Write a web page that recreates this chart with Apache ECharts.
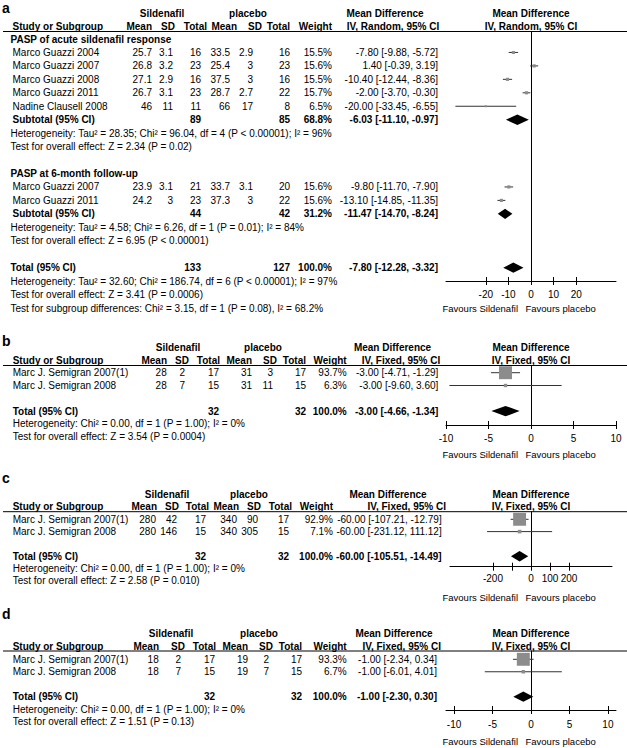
<!DOCTYPE html>
<html><head><meta charset="utf-8">
<script src="https://cdn.jsdelivr.net/npm/echarts@6/dist/echarts.min.js"></script>
<style>html,body{margin:0;padding:0;background:#fff}#c{width:627px;height:748px}</style>
</head><body><div id="c"></div>
<script>
// ================= DATA =================
// Panel a
const aGroupTitles = ["PASP of acute sildenafil response", "PASP at 6-month follow-up"];
const aStudies1 = ["Marco Guazzi 2004", "Marco Guazzi 2007", "Marco Guazzi 2008", "Marco Guazzi 2011", "Nadine Clausell 2008"];
const aSildMean1 = [25.7, 26.8, 27.1, 26.7, 46];
const aSildSD1 = [3.1, 3.2, 2.9, 3.1, 11];
const aSildN1 = [16, 23, 16, 23, 11];
const aPlacMean1 = [33.5, 25.4, 37.5, 28.7, 66];
const aPlacSD1 = [2.9, 3, 3, 2.7, 17];
const aPlacN1 = [16, 23, 16, 22, 8];
const aWeight1 = [15.5, 15.6, 15.5, 15.7, 6.5];
const aMD1 = [-7.80, 1.40, -10.40, -2.00, -20.00];
const aLow1 = [-9.88, -0.39, -12.44, -3.70, -33.45];
const aHigh1 = [-5.72, 3.19, -8.36, -0.30, -6.55];
const aSubtotal1 = [89, 85, 68.8, -6.03, -11.10, -0.97];
const aHet1 = "Heterogeneity: Tau² = 28.35; Chi² = 96.04, df = 4 (P < 0.00001); I² = 96%";
const aTest1 = "Test for overall effect: Z = 2.34 (P = 0.02)";
const aStudies2 = ["Marco Guazzi 2007", "Marco Guazzi 2011"];
const aSildMean2 = [23.9, 24.2];
const aSildSD2 = [3.1, 3];
const aSildN2 = [21, 23];
const aPlacMean2 = [33.7, 37.3];
const aPlacSD2 = [3.1, 3];
const aPlacN2 = [20, 22];
const aWeight2 = [15.6, 15.6];
const aMD2 = [-9.80, -13.10];
const aLow2 = [-11.70, -14.85];
const aHigh2 = [-7.90, -11.35];
const aSubtotal2 = [44, 42, 31.2, -11.47, -14.70, -8.24];
const aHet2 = "Heterogeneity: Tau² = 4.58; Chi² = 6.26, df = 1 (P = 0.01); I² = 84%";
const aTest2 = "Test for overall effect: Z = 6.95 (P < 0.00001)";
const aTotal = [133, 127, 100.0, -7.80, -12.28, -3.32];
const aHetTotal = "Heterogeneity: Tau² = 32.60; Chi² = 186.74, df = 6 (P < 0.00001); I² = 97%";
const aTestTotal = "Test for overall effect: Z = 3.41 (P = 0.0006)";
const aSubgroupTest = "Test for subgroup differences: Chi² = 3.15, df = 1 (P = 0.08), I² = 68.2%";
const aTicks = [-20, -10, 0, 10, 20];
const aTickLabels = [-20, -10, 0, 10, 20];

// Panel b
const bStudies = ["Marc J. Semigran 2007(1)", "Marc J. Semigran 2008"];
const bSildMean = [28, 28];
const bSildSD = [2, 7];
const bSildN = [17, 15];
const bPlacMean = [31, 31];
const bPlacSD = [3, 11];
const bPlacN = [17, 15];
const bWeight = [93.7, 6.3];
const bMD = [-3.00, -3.00];
const bLow = [-4.71, -9.60];
const bHigh = [-1.29, 3.60];
const bTotal = [32, 32, 100.0, -3.00, -4.66, -1.34];
const bHet = "Heterogeneity: Chi² = 0.00, df = 1 (P = 1.00); I² = 0%";
const bTest = "Test for overall effect: Z = 3.54 (P = 0.0004)";
const bTicks = [-10, -5, 0, 5, 10];
const bTickLabels = [-10, -5, 0, 5, 10];

// Panel c
const cStudies = ["Marc J. Semigran 2007(1)", "Marc J. Semigran 2008"];
const cSildMean = [280, 280];
const cSildSD = [42, 146];
const cSildN = [17, 15];
const cPlacMean = [340, 340];
const cPlacSD = [90, 305];
const cPlacN = [17, 15];
const cWeight = [92.9, 7.1];
const cMD = [-60.00, -60.00];
const cLow = [-107.21, -231.12];
const cHigh = [-12.79, 111.12];
const cTotal = [32, 32, 100.0, -60.00, -105.51, -14.49];
const cHet = "Heterogeneity: Chi² = 0.00, df = 1 (P = 1.00); I² = 0%";
const cTest = "Test for overall effect: Z = 2.58 (P = 0.010)";
const cTicks = [-200, -100, 0, 100, 200];
const cTickLabels = [-200, 0, 100, 200];

// Panel d
const dStudies = ["Marc J. Semigran 2007(1)", "Marc J. Semigran 2008"];
const dSildMean = [18, 18];
const dSildSD = [2, 7];
const dSildN = [17, 15];
const dPlacMean = [19, 19];
const dPlacSD = [2, 7];
const dPlacN = [17, 15];
const dWeight = [93.3, 6.7];
const dMD = [-1.00, -1.00];
const dLow = [-2.34, -6.01];
const dHigh = [0.34, 4.01];
const dTotal = [32, 32, 100.0, -1.00, -2.30, 0.30];
const dHet = "Heterogeneity: Chi² = 0.00, df = 1 (P = 1.00); I² = 0%";
const dTest = "Test for overall effect: Z = 1.51 (P = 0.13)";
const dTicks = [-10, -5, 0, 5, 10];
const dTickLabels = [-10, -5, 0, 5, 10];

const hdrSild = "Sildenafil", hdrPlac = "placebo", hdrMD = "Mean Difference", hdrStudy = "Study or Subgroup";
const hdrCols = ["Mean", "SD", "Total", "Mean", "SD", "Total", "Weight"];
const favLeft = "Favours Sildenafil", favRight = "Favours placebo";

// ================= LAYOUT / STYLE =================
const FONT = "'Liberation Sans', Arial, Helvetica, sans-serif";
const LAYOUT = {
  a: {letter: 'a', letterY: 8, size: 10, nameX: 12.5, noteX: 10.5, hdr1Y: 13.3, hdr2Y: 26.5, lineY: 31.5,
      y0: 39, h: 13.45, axisY: 281, favY: 308, left: 446, right: 616, half: 37.6, labelMargin: 8,
      sildC: 162, placC: 248, mdHdrC: 385, ivHdrC: 393, hdrR: [152, 175, 207, 237, 262, 290, 332],
      colR: [152, 173, 201, 230, 253, 290, 332, 438], markScale: 0.8, iv: "IV, Random, 95% CI"},
  b: {letter: 'b', letterY: 340.5, size: 10, nameX: 12.7, noteX: 12.7, hdr1Y: 347, hdr2Y: 360.5, lineY: 365.5,
      y0: 372.7, h: 12.8, axisY: 425, favY: 454, left: 446, right: 616, half: 10, labelMargin: 8.5,
      sildC: 178, placC: 263, mdHdrC: 392.5, ivHdrC: 401, hdrR: [167, 189, 220, 252, 277, 306, 346.7],
      colR: [166.7, 185, 219, 252, 273, 306, 346.7, 438.3], markScale: 1.34, iv: "IV, Fixed, 95% CI"},
  c: {letter: 'c', letterY: 478, size: 10, nameX: 12.7, noteX: 12.7, hdr1Y: 494, hdr2Y: 506, lineY: 511.7,
      y0: 519.3, h: 12.3, axisY: 566.7, favY: 597.7, left: 450, right: 612, half: 426, labelMargin: 7,
      sildC: 167, placC: 249, mdHdrC: 388, ivHdrC: 406.7, hdrR: [157, 179, 209, 239, 261, 292, 333],
      colR: [156, 177, 206, 237, 258, 289, 333, 441.7], markScale: 1.34, iv: "IV, Fixed, 95% CI"},
  d: {letter: 'd', letterY: 614, size: 10, nameX: 12.7, noteX: 12.7, hdr1Y: 633.3, hdr2Y: 646.7, lineY: 651,
      y0: 659.3, h: 12.45, axisY: 710, favY: 741, left: 446, right: 616, half: 11.05, labelMargin: 9,
      sildC: 171, placC: 259, mdHdrC: 394, ivHdrC: 401.7, hdrR: [159, 185, 216, 248, 273, 302, 346.7],
      colR: [158.7, 181, 215, 248, 269, 302, 346.7, 437], markScale: 1.34, iv: "IV, Fixed, 95% CI"}
};

// ================= BUILD =================
function T(x, y, s, o) {
  o = o || {};
  const size = o.size || 10, w = o.bold ? 'bold' : 'normal', al = o.align || 'left';
  return {type: 'text', x: x, y: y, silent: true, z: 10,
    style: {text: String(s), fill: '#000', font: w + ' ' + size + 'px ' + FONT,
      align: al, textAlign: al, verticalAlign: 'middle', textVerticalAlign: 'middle'}};
}
function HL(x1, x2, y) {
  return {type: 'line', silent: true, shape: {x1: x1, y1: y, x2: x2, y2: y}, style: {stroke: '#000', lineWidth: 1}};
}
function mdText(md, lo, hi) { return md.toFixed(2) + ' [' + lo.toFixed(2) + ', ' + hi.toFixed(2) + ']'; }

const graphics = [];
const grids = [], xAxes = [], yAxes = [], series = [];

function header(L) {
  const s = L.size;
  graphics.push(T(2, L.letterY, L.letter, {size: 14, bold: true}));
  graphics.push(T(L.sildC, L.hdr1Y, hdrSild, {size: s, bold: true, align: 'center'}));
  graphics.push(T(L.placC, L.hdr1Y, hdrPlac, {size: s, bold: true, align: 'center'}));
  graphics.push(T(L.mdHdrC, L.hdr1Y, hdrMD, {size: s, bold: true, align: 'center'}));
  graphics.push(T(531, L.hdr1Y, hdrMD, {size: s, bold: true, align: 'center'}));
  graphics.push(T(L.nameX, L.hdr2Y, hdrStudy, {size: s, bold: true}));
  hdrCols.forEach((c, i) => graphics.push(T(L.hdrR[i], L.hdr2Y, c, {size: s, bold: true, align: 'right'})));
  graphics.push(T(L.ivHdrC, L.hdr2Y, L.iv, {size: s, bold: true, align: 'center'}));
  graphics.push(T(531, L.hdr2Y, L.iv, {size: s, bold: true, align: 'center'}));
  graphics.push(HL(3, 627, L.lineY));
  graphics.push(T(518, L.favY, favLeft, {size: 9.5, align: 'right'}));
  graphics.push(T(525.5, L.favY, favRight, {size: 9.5}));
}
function rowY(L, i) { return L.y0 + L.h * i; }
function studyRow(L, i, name, m1, sd1, n1, m2, sd2, n2, w, md, lo, hi) {
  const y = rowY(L, i), s = L.size, c = L.colR;
  graphics.push(T(L.nameX, y, name, {size: s}));
  [m1, sd1, n1, m2, sd2, n2].forEach((v, k) => graphics.push(T(c[k], y, v, {size: s, align: 'right'})));
  graphics.push(T(c[6], y, w.toFixed(1) + '%', {size: s, align: 'right'}));
  graphics.push(T(c[7], y, mdText(md, lo, hi), {size: s, align: 'right'}));
}
function summaryRow(L, i, name, arr, x) {
  const y = rowY(L, i), s = L.size, c = L.colR;
  graphics.push(T(x, y, name, {size: s, bold: true}));
  graphics.push(T(c[2], y, arr[0], {size: s, bold: true, align: 'right'}));
  graphics.push(T(c[5], y, arr[1], {size: s, bold: true, align: 'right'}));
  graphics.push(T(c[6], y, arr[2].toFixed(1) + '%', {size: s, bold: true, align: 'right'}));
  graphics.push(T(c[7], y, mdText(arr[3], arr[4], arr[5]), {size: s, bold: true, align: 'right'}));
}
function note(L, i, txt, x) { graphics.push(T(x, rowY(L, i), txt, {size: L.size})); }

function addAxes(L, pi, ticks, tickLabels) {
  grids.push({left: L.left, top: L.lineY, width: L.right - L.left, height: L.axisY - L.lineY,
    containLabel: false, outerBoundsMode: 'none'});
  const base = {type: 'value', gridIndex: pi, min: -L.half, max: L.half, position: 'bottom',
    splitLine: {show: false}};
  xAxes.push(Object.assign({}, base, {
    axisLine: {show: true, onZero: false, lineStyle: {color: '#000', width: 1}},
    axisTick: {show: true, inside: false, length: 4, customValues: ticks, lineStyle: {color: '#000', width: 1}},
    axisLabel: {show: true, customValues: tickLabels, margin: L.labelMargin, color: '#000', fontSize: 10,
      fontFamily: FONT, showMinLabel: true, showMaxLabel: true, hideOverlap: false}
  }));
  xAxes.push(Object.assign({}, base, {
    axisLine: {show: false, onZero: false},
    axisTick: {show: true, inside: true, length: 4, customValues: ticks, lineStyle: {color: '#000', width: 1}},
    axisLabel: {show: false}
  }));
  yAxes.push({type: 'value', gridIndex: pi, inverse: true,
    min: (L.lineY - L.y0) / L.h, max: (L.axisY - L.y0) / L.h,
    axisLine: {show: true, onZero: true, onZeroAxisIndex: 2 * pi, lineStyle: {color: '#000', width: 1}},
    axisTick: {show: false}, axisLabel: {show: false}, splitLine: {show: false}});
}

function addSeries(L, pi, studyData, diamondData) {
  const sc = L.markScale;
  series.push({type: 'custom', xAxisIndex: 2 * pi, yAxisIndex: pi, clip: false, silent: true,
    encode: {x: [0, 2, 3], y: 1}, data: studyData,
    renderItem: function (params, api) {
      const row = api.value(1);
      const pc = api.coord([api.value(0), row]);
      const pl = api.coord([api.value(2), row]);
      const ph = api.coord([api.value(3), row]);
      const sz = Math.max(2, sc * Math.sqrt(api.value(4)));
      return {type: 'group', children: [
        {type: 'line', shape: {x1: pl[0], y1: pc[1], x2: ph[0], y2: pc[1]}, style: {stroke: '#333', lineWidth: 1}},
        {type: 'rect', shape: {x: pc[0] - sz / 2, y: pc[1] - sz / 2, width: sz, height: sz}, style: {fill: '#8c8c8c'}}
      ]};
    }});
  series.push({type: 'custom', xAxisIndex: 2 * pi, yAxisIndex: pi, clip: false, silent: true,
    encode: {x: [0, 2, 3], y: 1}, data: diamondData,
    renderItem: function (params, api) {
      const row = api.value(1);
      const pc = api.coord([api.value(0), row]);
      const pl = api.coord([api.value(2), row]);
      const ph = api.coord([api.value(3), row]);
      const hh = 5.2;
      return {type: 'polygon', shape: {points: [[pl[0], pc[1]], [pc[0], pc[1] - hh], [ph[0], pc[1]], [pc[0], pc[1] + hh]]},
        style: {fill: '#000'}};
    }});
}

// ---- panel a ----
(function () {
  const L = LAYOUT.a;
  header(L);
  const sd = [], dd = [];
  let i = 0;
  graphics.push(T(L.noteX, rowY(L, i), aGroupTitles[0], {size: L.size, bold: true})); i++;
  aStudies1.forEach((n, k) => {
    studyRow(L, i, n, aSildMean1[k], aSildSD1[k], aSildN1[k], aPlacMean1[k], aPlacSD1[k], aPlacN1[k], aWeight1[k], aMD1[k], aLow1[k], aHigh1[k]);
    sd.push([aMD1[k], i, aLow1[k], aHigh1[k], aWeight1[k]]); i++;
  });
  summaryRow(L, i, "Subtotal (95% CI)", aSubtotal1, L.nameX);
  dd.push([aSubtotal1[3], i, aSubtotal1[4], aSubtotal1[5]]); i++;
  note(L, i++, aHet1, L.noteX); note(L, i++, aTest1, L.noteX); i++;
  graphics.push(T(L.noteX, rowY(L, i), aGroupTitles[1], {size: L.size, bold: true})); i++;
  aStudies2.forEach((n, k) => {
    studyRow(L, i, n, aSildMean2[k], aSildSD2[k], aSildN2[k], aPlacMean2[k], aPlacSD2[k], aPlacN2[k], aWeight2[k], aMD2[k], aLow2[k], aHigh2[k]);
    sd.push([aMD2[k], i, aLow2[k], aHigh2[k], aWeight2[k]]); i++;
  });
  summaryRow(L, i, "Subtotal (95% CI)", aSubtotal2, L.nameX);
  dd.push([aSubtotal2[3], i, aSubtotal2[4], aSubtotal2[5]]); i++;
  note(L, i++, aHet2, L.noteX); note(L, i++, aTest2, L.noteX); i++;
  summaryRow(L, i, "Total (95% CI)", aTotal, L.noteX);
  dd.push([aTotal[3], i, aTotal[4], aTotal[5]]); i++;
  note(L, i++, aHetTotal, L.noteX); note(L, i++, aTestTotal, L.noteX); note(L, i++, aSubgroupTest, L.noteX);
  addAxes(L, 0, aTicks, aTickLabels);
  addSeries(L, 0, sd, dd);
})();

// ---- panels b, c, d ----
function simplePanel(L, pi, studies, m1, s1, n1, m2, s2, n2, w, md, lo, hi, tot, het, test, ticks, tickLabels) {
  header(L);
  const sd = [], dd = [];
  let i = 0;
  studies.forEach((n, k) => {
    studyRow(L, i, n, m1[k], s1[k], n1[k], m2[k], s2[k], n2[k], w[k], md[k], lo[k], hi[k]);
    sd.push([md[k], i, lo[k], hi[k], w[k]]); i++;
  });
  i++;
  summaryRow(L, i, "Total (95% CI)", tot, L.nameX);
  dd.push([tot[3], i, tot[4], tot[5]]); i++;
  note(L, i++, het, L.noteX); note(L, i++, test, L.noteX);
  addAxes(L, pi, ticks, tickLabels);
  addSeries(L, pi, sd, dd);
}
simplePanel(LAYOUT.b, 1, bStudies, bSildMean, bSildSD, bSildN, bPlacMean, bPlacSD, bPlacN, bWeight, bMD, bLow, bHigh, bTotal, bHet, bTest, bTicks, bTickLabels);
simplePanel(LAYOUT.c, 2, cStudies, cSildMean, cSildSD, cSildN, cPlacMean, cPlacSD, cPlacN, cWeight, cMD, cLow, cHigh, cTotal, cHet, cTest, cTicks, cTickLabels);
simplePanel(LAYOUT.d, 3, dStudies, dSildMean, dSildSD, dSildN, dPlacMean, dPlacSD, dPlacN, dWeight, dMD, dLow, dHigh, dTotal, dHet, dTest, dTicks, dTickLabels);

const chart = echarts.init(document.getElementById('c'), null, {renderer: 'svg', width: 627, height: 748});
chart.setOption({
  backgroundColor: '#fff',
  animation: false,
  grid: grids, xAxis: xAxes, yAxis: yAxes, series: series,
  graphic: {elements: graphics}
});
</script></body></html>
